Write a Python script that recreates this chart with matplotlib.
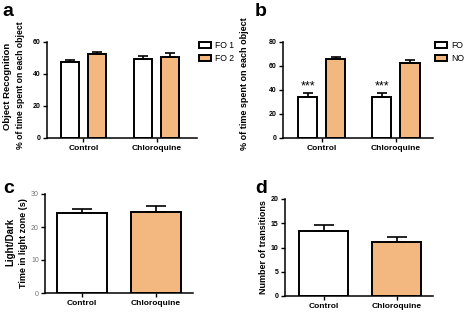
import numpy as np
import matplotlib
matplotlib.use('Agg')
import matplotlib.pyplot as plt

plt.rcParams['font.family'] = ['Liberation Sans', 'DejaVu Sans']
plt.rcParams['font.weight'] = 'bold'

cats = ['Control', 'Chloroquine']
a_fo1 = [47.5, 49.2]
a_fo1_err = [1.1, 2.1]
a_fo2 = [52.1, 50.3]
a_fo2_err = [1.5, 2.4]
b_fo = [34.3, 34.3]
b_fo_err = [2.8, 2.7]
b_no = [65.4, 62.5]
b_no_err = [2.1, 2.0]
c_time = [24.1, 24.5]
c_err = [1.3, 1.9]
d_trans = [13.4, 11.1]
d_err = [1.3, 1.0]

orange = '#F2B880'
W, H = 472, 312
fig = plt.figure(figsize=(W / 100, H / 100), dpi=100)


def axrect(l, r, t, b):
    return fig.add_axes([l / W, 1 - b / H, (r - l) / W, (b - t) / H])


def style(ax, ymax, step, tickcolor='black', tickweight='bold'):
    for s in ['top', 'right']:
        ax.spines[s].set_visible(False)
    for s in ['left', 'bottom']:
        ax.spines[s].set_linewidth(1.1)
    ax.set_ylim(0, ymax)
    ax.set_yticks(np.arange(0, ymax + 1, step))
    ax.tick_params(axis='y', direction='out', length=3, width=1, labelsize=5,
                   pad=1.5, labelcolor=tickcolor)
    ax.tick_params(axis='x', direction='out', length=3, width=1, labelsize=6, pad=2)
    for lab in ax.get_yticklabels():
        lab.set_fontweight(tickweight)
    ax.set_xticks([0, 1])
    ax.set_xticklabels(cats, fontweight='bold')


x = np.arange(len(cats))

# panel a
ax = axrect(46.7, 197, 41.7, 138)
off, w = 0.184, 0.253
h1 = ax.bar(x - off, a_fo1, w, color='white', edgecolor='black', linewidth=1.4,
            yerr=[[0, 0], a_fo1_err], capsize=3.5,
            error_kw=dict(elinewidth=1.2, capthick=1.2))
h2 = ax.bar(x + off, a_fo2, w, color=orange, edgecolor='black', linewidth=1.4,
            yerr=[[0, 0], a_fo2_err], capsize=3.5,
            error_kw=dict(elinewidth=1.2, capthick=1.2))
ax.set_xlim(-0.50, 1.55)
style(ax, 60, 20)
ax.legend([h1, h2], ['FO 1', 'FO 2'], loc='upper left', frameon=False,
          bbox_to_anchor=(199 / W, 1 - 41 / H), bbox_transform=fig.transFigure,
          prop=dict(size=6.2, weight='normal'), handlelength=1.4, handleheight=0.75,
          handletextpad=0.45, labelspacing=0.5, borderaxespad=0, borderpad=0)
fig.text(7.5 / W, 1 - 86 / H, 'Object Recognition', rotation=90, ha='center',
         va='center', fontsize=6.8, fontweight='bold')
fig.text(20.5 / W, 1 - 85 / H, '% of time spent on each object', rotation=90,
         ha='center', va='center', fontsize=6.2, fontweight='bold')
fig.text(2 / W, 1 - 16 / H, 'a', fontsize=14, fontweight='bold')

# panel b
ax = axrect(282.7, 433, 41.7, 138)
off, w = 0.19, 0.257
h1 = ax.bar(x - off, b_fo, w, color='white', edgecolor='black', linewidth=1.4,
            yerr=[[0, 0], b_fo_err], capsize=3.5,
            error_kw=dict(elinewidth=1.2, capthick=1.2))
h2 = ax.bar(x + off, b_no, w, color=orange, edgecolor='black', linewidth=1.4,
            yerr=[[0, 0], b_no_err], capsize=3.5,
            error_kw=dict(elinewidth=1.2, capthick=1.2))
for xi in x:
    ax.text(xi - off, 40, '***', ha='center', va='baseline', fontsize=9,
            fontweight='normal')
ax.set_xlim(-0.527, 1.5)
style(ax, 80, 20)
ax.legend([h1, h2], ['FO', 'NO'], loc='upper left', frameon=False,
          bbox_to_anchor=(435 / W, 1 - 41 / H), bbox_transform=fig.transFigure,
          prop=dict(size=6.2, weight='normal'), handlelength=1.4, handleheight=0.75,
          handletextpad=0.45, labelspacing=0.5, borderaxespad=0, borderpad=0)
fig.text(245 / W, 1 - 84 / H, '% of time spent on each object', rotation=90,
         ha='center', va='center', fontsize=6.5, fontweight='bold')
fig.text(255 / W, 1 - 16 / H, 'b', fontsize=14, fontweight='bold')

# panel c
ax = axrect(45, 193, 194, 293)
ax.bar(x, c_time, 0.68, color=['white', orange], edgecolor='black', linewidth=1.4,
       yerr=[[0, 0], c_err], capsize=7,
       error_kw=dict(elinewidth=1.2, capthick=1.2))
ax.set_xlim(-0.503, 1.51)
style(ax, 30, 10, tickcolor='#777777', tickweight='normal')
fig.text(10 / W, 1 - 242 / H, 'Light/Dark', rotation=90, ha='center', va='center',
         fontsize=7, fontweight='bold')
fig.text(24 / W, 1 - 243 / H, 'Time in light zone (s)', rotation=90, ha='center',
         va='center', fontsize=6.5, fontweight='bold')
fig.text(3 / W, 1 - 193 / H, 'c', fontsize=14, fontweight='bold')

# panel d
ax = axrect(285, 433, 199, 296)
ax.bar(x, d_trans, 0.667, color=['white', orange], edgecolor='black', linewidth=1.4,
       yerr=[[0, 0], d_err], capsize=7,
       error_kw=dict(elinewidth=1.2, capthick=1.2))
ax.set_xlim(-0.524, 1.49)
style(ax, 20, 5)
fig.text(264 / W, 1 - 247 / H, 'Number of transitions', rotation=90, ha='center',
         va='center', fontsize=6.5, fontweight='bold')
fig.text(255 / W, 1 - 193 / H, 'd', fontsize=14, fontweight='bold')

fig.savefig('out.png', dpi=100)
